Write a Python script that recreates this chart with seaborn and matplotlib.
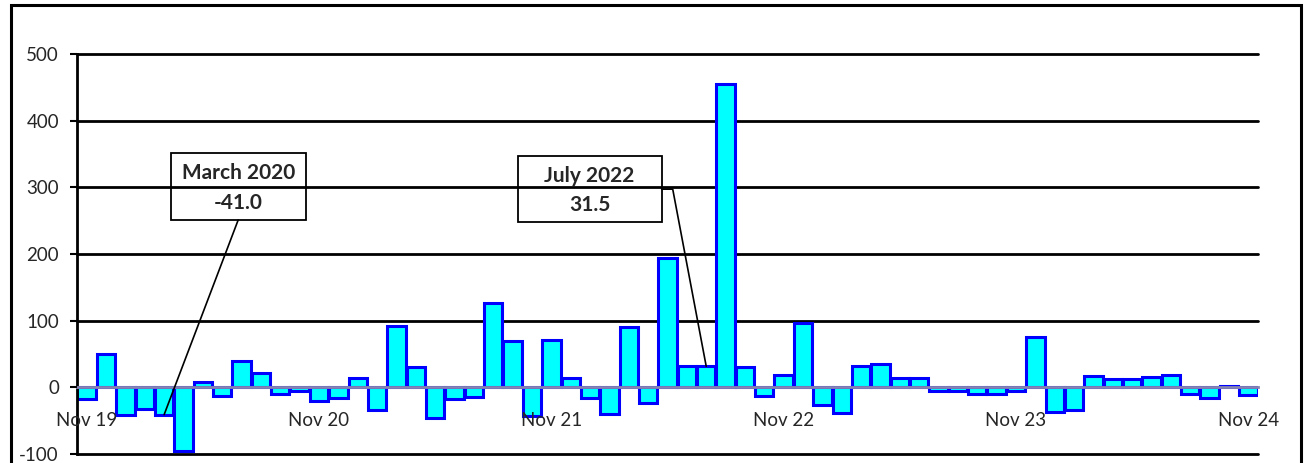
import numpy as np
import pandas as pd
import matplotlib
matplotlib.use("Agg")
import matplotlib.pyplot as plt
from matplotlib.patches import Rectangle
import seaborn as sns

# monthly values, Nov 2019 .. Nov 2024
months = pd.date_range("2019-11-01", periods=61, freq="MS")
month_labels = [m.strftime("%b %y") for m in months]
values = [
    -18, 50, -42, -32.5, -41.0, -95, 8, -13, 39, 21, -9.5, -6,
    -20, -16.5, 14.5, -33.5, 91.5, 30, -46.5, -17.5, -15, 127, 70, -43,
    71.5, 14.5, -16.5, -39.5, 90.5, -23, 193.5, 32, 31.5, 454.5, 31, -13,
    18.5, 97, -27, -38, 32, 35, 14.5, 14.5, -5, -5, -10.5, -10.5,
    -5, 75, -36.5, -34, 17, 13, 12, 15, 18, -10, -16, 1.5,
    -12,
]
y_ticks = [-100, 0, 100, 200, 300, 400, 500]

# callouts: (bar index, title, box x0, x1, y0, y1)
callouts = [
    (4, "March 2020", 4.34, 11.31, 251, 351),
    (32, "July 2022", 22.26, 29.70, 247.5, 347),
]

df = pd.DataFrame({"month": month_labels, "value": values})

sns.set_style("white")
plt.rcParams["font.family"] = ["Lato", "DejaVu Sans"]

fig = plt.figure(figsize=(13.07, 4.63), dpi=100)
ax = fig.add_axes([77 / 1307, 9 / 463, 1181 / 1307, 400 / 463])

sns.barplot(data=df, x="month", y="value", color="#00FFFF", saturation=1,
            edgecolor="#0000FF", linewidth=2.2, width=0.95, ax=ax, zorder=2)

# x axis sits on zero (set before ticks, it resets them)
ax.spines["bottom"].set_position(("data", 0))
ax.spines["bottom"].set_color("#8585b0")
ax.spines["bottom"].set_linewidth(2)
ax.spines["left"].set_color("black")
ax.spines["left"].set_linewidth(2)
ax.spines["top"].set_visible(False)
ax.spines["right"].set_visible(False)

ax.set_xlim(-0.5, len(values) - 0.5)
ax.set_ylim(-100, 500)
ax.set_yticks(y_ticks)
ax.set_yticklabels([str(t) for t in y_ticks])
ax.set_axisbelow(False)
ax.grid(False)
# gridlines behind the bars, axis labels/ticks above them
for t in y_ticks:
    if t != 0:
        ax.axhline(t, color="black", linewidth=2, zorder=1, clip_on=False)

# labels only every November
nov_idx = [i for i, m in enumerate(months) if m.month == 11]
ax.set_xticks(nov_idx)
ax.set_xticklabels([month_labels[i] for i in nov_idx])
ax.set_xticks(np.arange(-0.5, len(values), 1), minor=True)
ax.tick_params(axis="x", which="major", length=0, pad=18, labelsize=13.5)
ax.tick_params(axis="x", which="minor", length=6, width=1.5, color="#8c8c8c",
               direction="out")
ax.tick_params(axis="y", length=5, width=1.5, color="black", pad=8,
               direction="out", left=True, labelsize=13.5)
ax.set_xlabel("")
ax.set_ylabel("")

for idx, title, x0, x1, y0, y1 in callouts:
    val = values[idx]
    ax.add_patch(Rectangle((x0, y0), x1 - x0, y1 - y0, fill=False,
                           edgecolor="black", linewidth=1.3, zorder=4))
    xc = (x0 + x1) / 2
    ax.text(xc, y0 + (y1 - y0) * 0.7, title, ha="center", va="center",
            fontsize=15, fontweight="bold", zorder=5)
    ax.text(xc, y0 + (y1 - y0) * 0.26, f"{val:.1f}", ha="center", va="center",
            fontsize=15, fontweight="bold", zorder=5)
    if idx < 10:
        ax.plot([idx, xc], [val, y0], color="black", linewidth=1.2, zorder=5)
    else:
        ymid = (y0 + y1) / 2
        ax.plot([idx, x1 + 0.57, x1], [val, ymid, ymid], color="black",
                linewidth=1.2, zorder=5)

# outer chart frame
fig.patches.append(Rectangle((11 / 1307, -0.05), 1290 / 1307, 1.05 - 5 / 463,
                             transform=fig.transFigure, fill=False,
                             edgecolor="black", linewidth=2.2))

fig.savefig("out.png", dpi=100)
